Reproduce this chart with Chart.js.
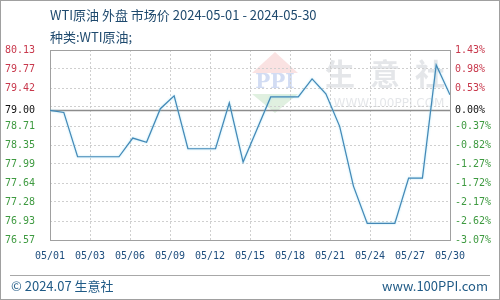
<!DOCTYPE html>
<html><head><meta charset="utf-8">
<script src="https://cdn.jsdelivr.net/npm/chart.js@4/dist/chart.umd.min.js"></script>
<style>
html,body{margin:0;padding:0;background:#fff;}
#wrap{width:500px;height:300px;position:relative;overflow:hidden;}
canvas{position:absolute;left:0;top:0;}
.t{position:absolute;font-family:"Noto Sans CJK SC","Noto Sans",sans-serif;font-size:13px;line-height:15px;color:#1f4a6e;white-space:nowrap;}
</style>
</head><body>
<div id="wrap">
<canvas id="c" width="500" height="300"></canvas>
<div class="t" style="left:50px;top:7px;">WTI原油 外盘 市场价 2024-05-01 - 2024-05-30</div>
<div class="t" style="left:50px;top:29px;">种类:WTI原油;</div>
<div class="t" style="left:11px;top:278px;color:#1f5a86;">© 2024.07 生意社</div>
<div class="t" style="right:12px;top:278px;color:#1f5a86;">www.100PPI.com</div>
</div>
<script>
// ---- data ----
const dates = ['05/01','05/02','05/03','05/04','05/05','05/06','05/07','05/08','05/09','05/10',
               '05/11','05/12','05/13','05/14','05/15','05/16','05/17','05/18','05/19','05/20',
               '05/21','05/22','05/23','05/24','05/25','05/26','05/27','05/28','05/29','05/30'];
const prices = [79.00, 78.96, 78.13, 78.13, 78.13, 78.13, 78.48, 78.40, 79.03, 79.27,
                78.28, 78.28, 78.28, 79.14, 78.03, 78.64, 79.25, 79.25, 79.25, 79.59,
                79.31, 78.70, 77.58, 76.88, 76.88, 76.88, 77.73, 77.73, 79.85, 79.29];
const xTickLabels = ['05/01','05/03','05/06','05/09','05/12','05/15','05/18','05/21','05/24','05/27','05/30'];
const leftTickLabels = ['76.57','76.93','77.28','77.64','77.99','78.35','78.71','79.00','79.42','79.77','80.13'];
const rightTickLabels = ['-3.07%','-2.62%','-2.17%','-1.72%','-1.27%','-0.82%','-0.37%','0.00%','0.53%','0.98%','1.43%'];
const yMin = 76.57, yMax = 80.13, baseline = 79.00;

const RED = '#c8384c', GREEN = '#3e9a40', BLACK = '#111111';
const step = (yMax - yMin) / 10;

function buildYTicks(scale, labels) {
  const t = [];
  for (let k = 0; k <= 10; k++) {
    if (k === 7) {
      t.push({value: yMin + k * step, lab: ''});
      t.push({value: baseline, lab: labels[k]});
    } else {
      t.push({value: yMin + k * step, lab: labels[k]});
    }
  }
  t.sort((a, b) => a.value - b.value);
  scale.ticks = t;
}
function labelColor(ctx) {
  const v = ctx.tick ? ctx.tick.value : 0;
  if (Math.abs(v - baseline) < 1e-6) return BLACK;
  return v > baseline ? RED : GREEN;
}

const decor = {
  id: 'decor',
  beforeDraw(chart) {
    const c = chart.ctx;
    c.save();
    // watermark logo
    const cx = 275, top = 52, mid = 73, bot = 113, hw = 23;
    c.globalAlpha = 0.16;
    c.fillStyle = '#e04848';
    c.beginPath(); c.moveTo(cx, top); c.lineTo(cx + hw, mid); c.lineTo(cx - hw, mid); c.closePath(); c.fill();
    c.fillStyle = '#40a040';
    c.beginPath(); c.moveTo(cx - hw, 94); c.lineTo(cx + hw, 94); c.lineTo(cx, bot); c.closePath(); c.fill();
    c.globalAlpha = 0.22;
    c.fillStyle = '#3060c8';
    c.font = 'bold 20px "DejaVu Serif", serif';
    c.textAlign = 'center'; c.textBaseline = 'middle';
    c.fillText('PPI', cx, 83);
    c.globalAlpha = 1;
    c.fillStyle = 'rgba(150,160,170,0.26)';
    c.font = 'bold 30px "Noto Sans CJK SC", sans-serif';
    c.fillText('生', 340, 74);
    c.fillText('意', 385, 74);
    c.fillText('社', 430, 74);
    c.font = '12px "DejaVu Sans", sans-serif';
    c.fillText('WWW.100PPI.COM', 389, 104);
    c.restore();
  },
  beforeDatasetsDraw(chart) {
    const c = chart.ctx, a = chart.chartArea;
    const y = Math.round(chart.scales.y.getPixelForValue(baseline)) + 0.5;
    c.save();
    c.strokeStyle = '#8c8c8c'; c.lineWidth = 1.5;
    c.beginPath(); c.moveTo(a.left, y); c.lineTo(a.right, y); c.stroke();
    c.strokeStyle = '#a0a0a0'; c.lineWidth = 1;
    c.strokeRect(Math.round(a.left) + 0.5, Math.round(a.top) + 0.5, Math.round(a.right - a.left), Math.round(a.bottom - a.top));
    c.restore();
  },
  beforeDatasetDraw(chart) {
    chart.ctx.save();
    chart.ctx.shadowColor = 'rgba(120,210,240,0.7)';
    chart.ctx.shadowBlur = 2;
  },
  afterDatasetDraw(chart) {
    chart.ctx.restore();
  },
  afterDraw(chart) {
    const c = chart.ctx;
    c.save();
    c.strokeStyle = '#a8a8a8'; c.lineWidth = 1;
    c.beginPath(); c.moveTo(10, 275.5); c.lineTo(490, 275.5); c.stroke();
    c.strokeStyle = '#a0a0a0';
    c.strokeRect(0.5, 0.5, 499, 299);
    c.restore();
  }
};

new Chart(document.getElementById('c'), {
  type: 'line',
  data: {
    datasets: [{
      data: prices.map((p, i) => ({x: i, y: p})),
      borderColor: '#4488b6',
      borderWidth: 1.2,
      pointRadius: 0,
      tension: 0,
      fill: false
    }]
  },
  options: {
    responsive: false,
    animation: false,
    devicePixelRatio: 1,
    layout: {padding: {top: 50, left: 0, right: 0, bottom: 0}},
    plugins: {legend: {display: false}, tooltip: {enabled: false}, title: {display: false}},
    scales: {
      x: {
        type: 'linear',
        min: 0, max: dates.length - 1,
        afterBuildTicks(scale) {
          scale.ticks = xTickLabels.map((l, k) => ({value: k * (dates.length - 1) / (xTickLabels.length - 1)}));
        },
        afterTickToLabelConversion(scale) {
          scale.ticks.forEach((t, k) => { t.label = xTickLabels[k]; });
        },
        afterFit(scale) { scale.height = 60; },
        grid: {color: '#cfcfcf', drawTicks: false, lineWidth: 1},
        border: {display: false, dash: [2, 2]},
        ticks: {autoSkip: false, maxRotation: 0, padding: 10, color: '#1f4f7f',
                font: {family: '"DejaVu Sans Mono", monospace', size: 10}}
      },
      y: {
        position: 'left',
        min: yMin, max: yMax,
        afterBuildTicks(scale) { buildYTicks(scale, leftTickLabels); },
        afterTickToLabelConversion(scale) { scale.ticks.forEach(t => { t.label = t.lab; }); },
        afterFit(scale) { scale.width = 50; },
        grid: {
          color: (ctx) => (ctx.tick && Math.abs(ctx.tick.value - baseline) < 1e-6) ? 'rgba(0,0,0,0)' : '#cfcfcf',
          drawTicks: false, lineWidth: 1
        },
        border: {display: false, dash: [2, 2]},
        ticks: {autoSkip: false, padding: 15, color: labelColor,
                font: {family: '"DejaVu Sans Mono", monospace', size: 10}}
      },
      y2: {
        position: 'right',
        min: yMin, max: yMax,
        afterBuildTicks(scale) { buildYTicks(scale, rightTickLabels); },
        afterTickToLabelConversion(scale) { scale.ticks.forEach(t => { t.label = t.lab; }); },
        afterFit(scale) { scale.width = 50; },
        grid: {drawOnChartArea: false, drawTicks: false},
        border: {display: false},
        ticks: {autoSkip: false, padding: 5, color: labelColor,
                font: {family: '"DejaVu Sans Mono", monospace', size: 10}}
      }
    }
  },
  plugins: [decor]
});
</script>
</body></html>
